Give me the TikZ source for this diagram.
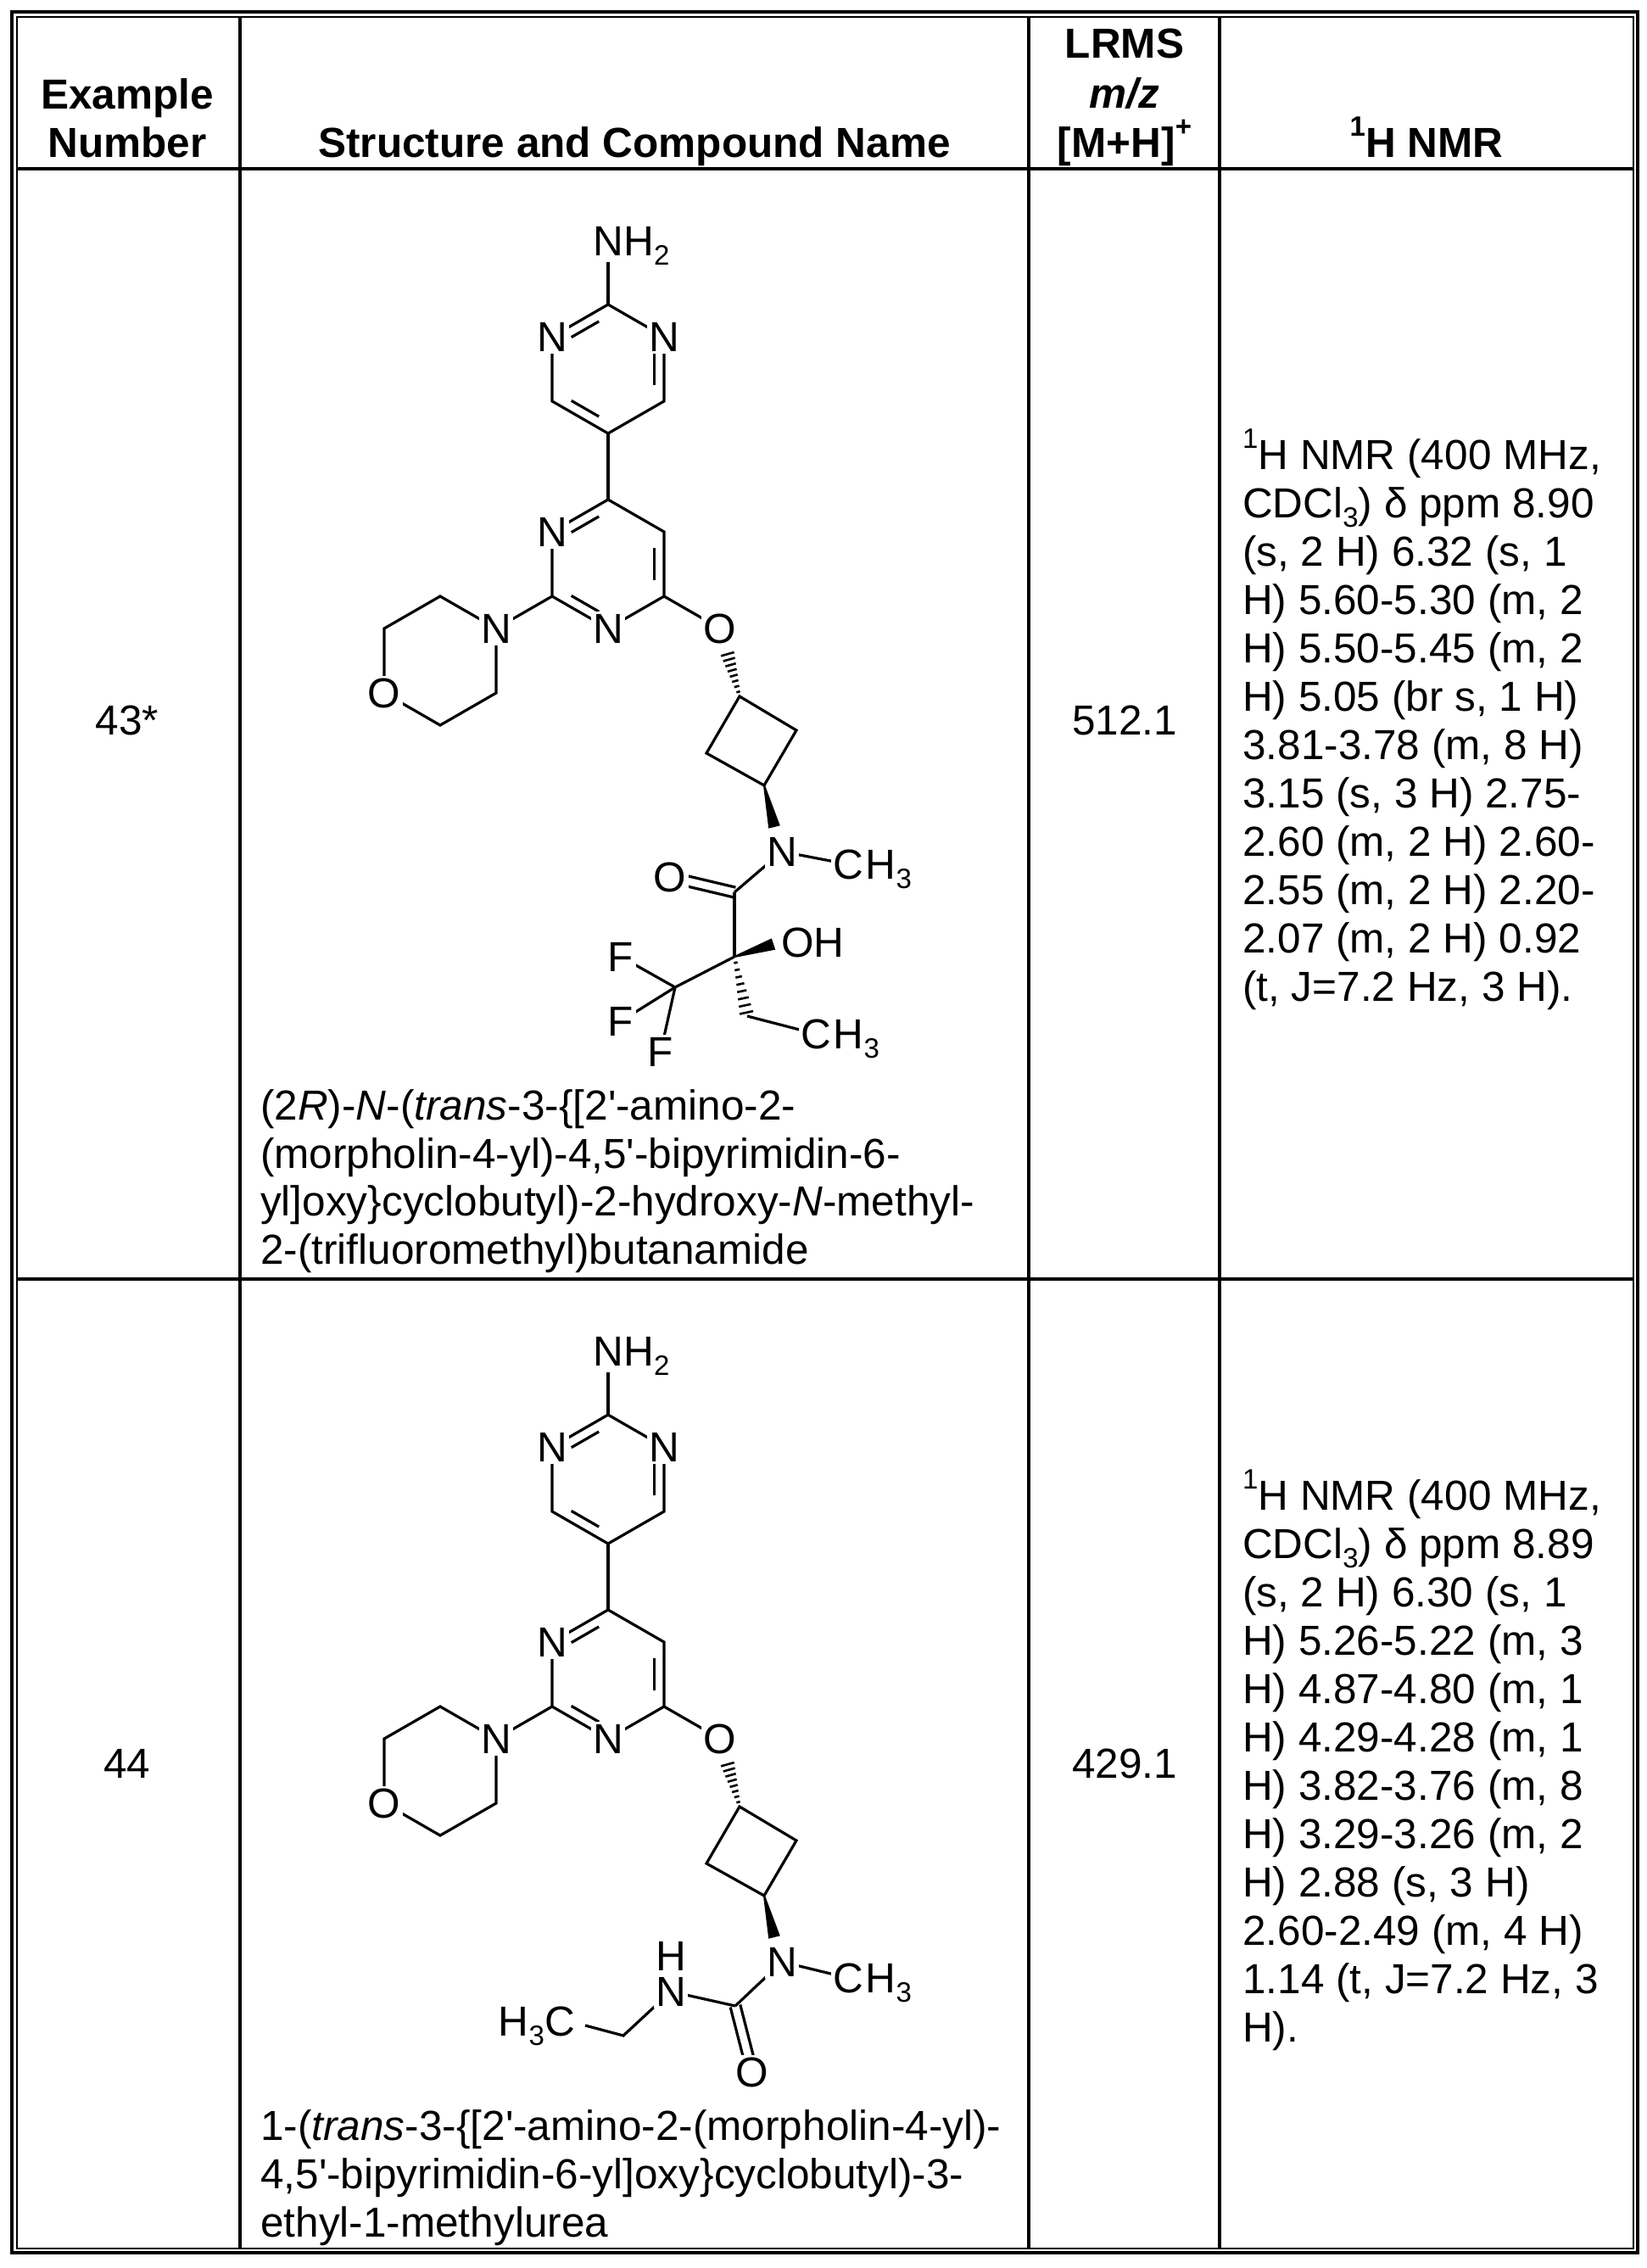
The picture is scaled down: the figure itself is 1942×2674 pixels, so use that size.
\documentclass[tikz,border=0pt]{standalone}
\usepackage{fontspec}
\setmainfont{Liberation Sans}
\usetikzlibrary{calc}
\newcommand\sbs[1]{\raisebox{-0.24em}{\fontsize{33}{33}\selectfont #1}}
\newcommand\sps[1]{\raisebox{0.5em}{\fontsize{33}{33}\selectfont #1}}
\newcommand\ap{\textquotesingle}
\newcommand\hashw[2]{\foreach \hh in {0.1,0.22,0.34,0.46,0.58,0.7,0.82,0.94}{\pgfmathsetmacro\ww{1.5+7*\hh}\draw[line width=2.6pt] ($(#1)!\hh!(#2)!\ww pt!90:(#2)$) -- ($(#1)!\hh!(#2)!\ww pt!-90:(#2)$);}}
\newcommand\bwedge[2]{\fill ($(#1)!1pt!90:(#2)$) -- ($(#1)!1pt!-90:(#2)$) -- ($(#2)!7pt!90:(#1)$) -- ($(#2)!7pt!-90:(#1)$) -- cycle;}
\newcommand\dbl[3]{\draw[bond] ($(#1)!0.2!(#2)!0.18!(#3)$) -- ($(#2)!0.2!(#1)!0.18!(#3)$);}
\newcommand\corebonds[2]{%
\begin{scope}[shift={(0,#2)}]
\coordinate (#1t) at (717,359); \coordinate (#1ur) at (783,397); \coordinate (#1lr) at (783,473);
\coordinate (#1b) at (717,511); \coordinate (#1ll) at (651,473); \coordinate (#1ul) at (651,397);
\coordinate (#1c) at (717,435); \coordinate (#1nh) at (717,309);
\coordinate (#1tt) at (717,589); \coordinate (#1uur) at (783,627); \coordinate (#1llr) at (783,703);
\coordinate (#1bb) at (717,741); \coordinate (#1lll) at (651,703); \coordinate (#1uul) at (651,627);
\coordinate (#1cc) at (717,665); \coordinate (#1o) at (849,741);
\coordinate (#1ma) at (519,703); \coordinate (#1mn) at (585,741); \coordinate (#1mc) at (585,817);
\coordinate (#1md) at (519,855); \coordinate (#1mo) at (453,817); \coordinate (#1mf) at (453,741);
\end{scope}
\draw[bond] (#1nh)--(#1t);
\draw[bond] (#1t)--(#1ur)--(#1lr)--(#1b)--(#1ll)--(#1ul)--cycle;
\draw[bond] (#1b)--(#1tt);
\draw[bond] (#1tt)--(#1uur)--(#1llr)--(#1bb)--(#1lll)--(#1uul)--cycle;
\draw[bond] (#1lll)--(#1mn); \draw[bond] (#1llr)--(#1o);
\draw[bond] (#1ma)--(#1mn)--(#1mc)--(#1md)--(#1mo)--(#1mf)--cycle;
\dbl{#1t}{#1ul}{#1c}\dbl{#1ur}{#1lr}{#1c}\dbl{#1ll}{#1b}{#1c}
\dbl{#1tt}{#1uul}{#1cc}\dbl{#1uur}{#1llr}{#1cc}\dbl{#1lll}{#1bb}{#1cc}}
\newcommand\corelabels[2]{%
\node[anchor=base] (#1NH) at (717,#2+301) {N};
\node[anchor=base west] (#1HH) at (#1NH.base east) {H\sbs{2}};
\node[atom] (#1N1) at (#1ul) {N}; \node[atom] (#1N2) at (#1ur) {N};
\node[atom] (#1N3) at (#1uul) {N}; \node[atom] (#1N4) at (#1bb) {N};
\node[atom] (#1N5) at (#1mn) {N}; \node[atom] (#1O1) at (#1mo) {O};
\node[atom] (#1O2) at (#1o) {O};}
\begin{document}
\begin{tikzpicture}[x=1pt,y=-1pt,
  every node/.style={font=\fontsize{49.5}{57}\selectfont, inner sep=0pt},
  bond/.style={line width=3.2pt},
  atom/.style={fill=white, inner sep=2.5pt},
  grid/.style={line width=3.5pt},
  ln/.style={anchor=base west},
  hd/.style={anchor=base, font=\fontsize{49.5}{57}\selectfont\bfseries}]
\useasboundingbox (0,0) rectangle (1942,2674);
% table
\draw[line width=4pt] (14,14) rectangle (1931,2656);
\draw[line width=2pt] (19.5,19.5) rectangle (1925.5,2650.5);
\draw[grid] (283,19) -- (283,2651);
\draw[grid] (1213,19) -- (1213,2651);
\draw[grid] (1438,19) -- (1438,2651);
\draw[grid] (19,199) -- (1926,199);
\draw[grid] (19,1508) -- (1926,1508);
% header
\node[hd] (h1a) at (150,128) {Example};
\node[hd] (h1b) at (150,185) {Number};
\node[hd] (h2) at (748,185) {Structure and Compound Name};
\node[hd] (h3a) at (1326,68) {LRMS};
\node[hd] (h3b) at (1326,127) {\itshape m/z};
\node[hd] (h3c) at (1326,185) {[M+H]\sps{+}};
\node[hd] (h4) at (1682,185) {\sps{1}H NMR};
% row values
\node[anchor=base] (ex1) at (150,866) {43*};
\node[anchor=base] (ms1) at (1326,866) {512.1};
\node[anchor=base] (ex2) at (150,2096) {44};
\node[anchor=base] (ms2) at (1326,2096) {429.1};
% NMR 1
\foreach \s [count=\i from 0] in {{\sps{1}H NMR (400 MHz,},{CDCl\sbs{3}) δ ppm 8.90},{(s, 2 H) 6.32 (s, 1},{H) 5.60-5.30 (m, 2},{H) 5.50-5.45 (m, 2},{H) 5.05 (br s, 1 H)},{3.81-3.78 (m, 8 H)},{3.15 (s, 3 H) 2.75-},{2.60 (m, 2 H) 2.60-},{2.55 (m, 2 H) 2.20-},{2.07 (m, 2 H) 0.92},{(t, J=7.2 Hz, 3 H).}}
  \node[ln] (na\i) at (1465,553+57*\i) {\s};
\foreach \s [count=\i from 0] in {{\sps{1}H NMR (400 MHz,},{CDCl\sbs{3}) δ ppm 8.89},{(s, 2 H) 6.30 (s, 1},{H) 5.26-5.22 (m, 3},{H) 4.87-4.80 (m, 1},{H) 4.29-4.28 (m, 1},{H) 3.82-3.76 (m, 8},{H) 3.29-3.26 (m, 2},{H) 2.88 (s, 3 H)},{2.60-2.49 (m, 4 H)},{1.14 (t, J=7.2 Hz, 3},{H).}}
  \node[ln] (nb\i) at (1465,1780+57*\i) {\s};
% names
\node[ln] (m1a) at (307,1320) {(2\textit{R})-\textit{N}-(\textit{trans}-3-\{[2\ap-amino-2-};
\node[ln] (m1b) at (307,1377) {(morpholin-4-yl)-4,5\ap-bipyrimidin-6-};
\node[ln] (m1c) at (307,1433) {yl]oxy\}cyclobutyl)-2-hydroxy-\textit{N}-methyl-};
\node[ln] (m1d) at (307,1490) {2-(trifluoromethyl)butanamide};
\node[ln] (m2a) at (307,2523) {1-(\textit{trans}-3-\{[2\ap-amino-2-(morpholin-4-yl)-};
\node[ln] (m2b) at (307,2580) {4,5\ap-bipyrimidin-6-yl]oxy\}cyclobutyl)-3-};
\node[ln] (m2c) at (307,2637) {ethyl-1-methylurea};
% ---------- structure 1
\corebonds{a}{0}
\coordinate (ca) at (872,821); \coordinate (cb) at (939,861);
\coordinate (cc) at (901,926); \coordinate (cd) at (833,888);
\draw[bond] (ca)--(cb)--(cc)--(cd)--cycle;
\coordinate (aow) at (857,768); \hashw{ca}{aow}
\coordinate (anw) at (913,975); \bwedge{cc}{anw}
\coordinate (an) at (922,1004); \coordinate (amc) at (1000,1019);
\coordinate (c1) at (866,1052); \coordinate (o1) at (790,1034);
\coordinate (cq) at (866,1128); \coordinate (ohw) at (912,1113);
\coordinate (cf) at (796,1164);
\coordinate (f1) at (732,1128); \coordinate (f2) at (732,1204); \coordinate (f3) at (779,1240);
\coordinate (ch2w) at (881,1198); \coordinate (emc) at (962,1219);
\draw[bond] (an)--(amc); \draw[bond] (an)--(c1); \draw[bond] (c1)--(cq);
\draw[bond] ($(c1)!6pt!90:(o1)$) -- ($(o1)!6pt!-90:(c1)$);
\draw[bond] ($(c1)!6pt!-90:(o1)$) -- ($(o1)!6pt!90:(c1)$);
\bwedge{cq}{ohw}
\draw[bond] (cq)--(cf); \draw[bond] (cf)--(f1); \draw[bond] (cf)--(f2); \draw[bond] (cf)--(f3);
\hashw{cq}{ch2w}
\draw[bond] (ch2w)--(emc);
\corelabels{a}{0}
\node[atom] (aN) at (an) {N};
\node[atom] (aC) at (amc) {C};
\node[anchor=base west] (aH) at (aC.base east) {H\sbs{3}};
\node[atom] (aO) at (o1) {O};
\node[anchor=base west] (aOH) at (921,1128) {OH};
\node[atom] (aF1) at (f1) {F}; \node[atom] (aF2) at (f2) {F}; \node[atom] (aF3) at (f3) {F};
\node[atom] (eC) at (emc) {C};
\node[anchor=base west] (eH) at (eC.base east) {H\sbs{3}};
% ---------- structure 2
\corebonds{b}{1309}
\coordinate (ra) at (872,2130); \coordinate (rb) at (939,2170);
\coordinate (rc) at (901,2235); \coordinate (rd) at (833,2197);
\draw[bond] (ra)--(rb)--(rc)--(rd)--cycle;
\coordinate (bow) at (857,2077); \hashw{ra}{bow}
\coordinate (bnw) at (913,2284); \bwedge{rc}{bnw}
\coordinate (bn) at (922,2313); \coordinate (bmc) at (1000,2332);
\coordinate (uc) at (867,2365); \coordinate (uo) at (887,2443);
\coordinate (unh) at (791,2348); \coordinate (ue) at (735,2400);
\coordinate (ueend) at (690,2388);
\draw[bond] (bn)--(bmc); \draw[bond] (bn)--(uc); \draw[bond] (unh)--(uc);
\draw[bond] ($(uc)!6pt!90:(uo)$) -- ($(uo)!6pt!-90:(uc)$);
\draw[bond] ($(uc)!6pt!-90:(uo)$) -- ($(uo)!6pt!90:(uc)$);
\draw[bond] (unh)--(ue)--(ueend);
\corelabels{b}{1309}
\node[atom] (bN) at (bn) {N};
\node[atom] (bC) at (bmc) {C};
\node[anchor=base west] (bH) at (bC.base east) {H\sbs{3}};
\node[atom] (uO) at (uo) {O};
\node[atom] (uN) at (unh) {N};
\node[anchor=base] (uH) at (791,2323) {H};
\node[anchor=base east] (uE) at (678,2400) {H\sbs{3}C};
\end{tikzpicture}
\end{document}
